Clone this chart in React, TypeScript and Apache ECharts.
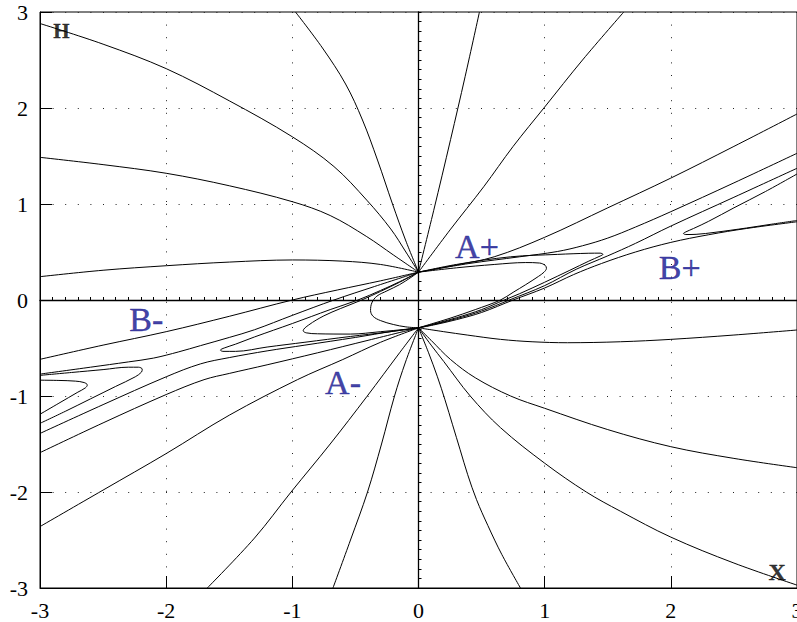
import React, { useEffect, useRef } from "react";
import * as echarts from "echarts";

type Pt = [number, number];

// axis range and tick step
const axisMin = -3;
const axisMax = 3;
const tickStep = 1;
const zeroTickStep = 0.1;

// ---- curves through the upper node (0, 0.29) ----
const upperLeft1: Pt[] = [[-3, 2.88], [-2.5, 2.665], [-2, 2.41], [-1.5, 2.075], [-1, 1.7], [-0.67, 1.39], [-0.41, 1.04], [-0.22, 0.74], [-0.1, 0.5], [0, 0.29]];
const upperLeft2: Pt[] = [[-3, 1.486], [-2.5, 1.41], [-2, 1.32], [-1.5, 1.19], [-1, 1.024], [-0.7, 0.88], [-0.41, 0.66], [-0.2, 0.47], [0, 0.29]];
const upperLeft3: Pt[] = [[-3, 0.243], [-2.5, 0.31], [-2, 0.357], [-1.5, 0.395], [-1, 0.417], [-0.6, 0.405], [-0.3, 0.37], [0, 0.29]];
const upperLeft4: Pt[] = [[-0.975, 3.0], [-0.761, 2.625], [-0.578, 2.25], [-0.444, 1.875], [-0.325, 1.458], [-0.206, 1.0], [-0.103, 0.625], [0, 0.29]];
const upperRight5: Pt[] = [[0, 0.29], [0.12, 0.93], [0.254, 1.67], [0.37, 2.33], [0.483, 3.0]];
const upperRight6: Pt[] = [[0, 0.29], [0.25, 0.73], [0.517, 1.18], [0.75, 1.6], [1.0, 2.01], [1.3, 2.5], [1.627, 3.0]];
const upperRight7: Pt[] = [[0, 0.29], [0.3, 0.365], [0.6, 0.45], [1.0, 0.653], [1.5, 0.96], [2.0, 1.27], [2.5, 1.6], [3, 1.9375]];
const rightBandB: Pt[] = [[0, 0.29], [0.4, 0.38], [0.8, 0.45], [1.1, 0.505], [1.3, 0.565], [1.5, 0.645], [1.72, 0.76], [2.0, 0.92], [2.5, 1.22], [3, 1.528]];
const rightLoopE: Pt[] = [[0, 0.29], [0.3, 0.37], [0.73, 0.45], [1.1, 0.475], [1.35, 0.487], [1.44, 0.488], [1.462, 0.476], [1.44, 0.458], [1.35, 0.405], [1.2, 0.31], [1.0, 0.185], [0.8, 0.065], [0.68, 0.0], [0.5, -0.1], [0.3, -0.185], [0.12, -0.25], [0, -0.29]];
const rightLoopD: Pt[] = [[0, 0.29], [0.3, 0.335], [0.6, 0.37], [0.85, 0.39], [0.96, 0.385], [1.005, 0.36], [1.014, 0.33], [0.995, 0.29], [0.95, 0.245], [0.85, 0.16], [0.75, 0.08], [0.65, 0.0], [0.45, -0.1], [0.25, -0.19], [0.1, -0.25], [0, -0.29]];
const leftBand1: Pt[] = [[-3, -0.618], [-2.5, -0.47], [-2, -0.33], [-1.5, -0.17], [-1, 0.0], [-0.644, 0.104], [-0.3, 0.2], [0, 0.29]];
const leftBand2: Pt[] = [[-3, -0.772], [-2.6, -0.7], [-2.3, -0.645], [-2.1, -0.605], [-1.9, -0.54], [-1.727, -0.475], [-1.5, -0.39], [-1.3, -0.31], [-1, -0.16], [-0.67, 0.0], [-0.35, 0.14], [0, 0.29]];
const leftLoopE: Pt[] = [[0, 0.29], [-0.15, 0.19], [-0.3, 0.1], [-0.48, 0.0], [-0.7, -0.1], [-1.0, -0.245], [-1.3, -0.385], [-1.45, -0.46], [-1.54, -0.5], [-1.57, -0.522], [-1.55, -0.535], [-1.45, -0.535], [-1.2, -0.49], [-0.9, -0.44], [-0.54, -0.38], [-0.25, -0.335], [0, -0.29]];
const leftLoopD: Pt[] = [[0, 0.29], [-0.15, 0.185], [-0.3, 0.09], [-0.45, 0.0], [-0.62, -0.09], [-0.75, -0.165], [-0.87, -0.26], [-0.914, -0.32], [-0.89, -0.342], [-0.8, -0.352], [-0.54, -0.355], [-0.3, -0.33], [-0.1, -0.305], [0, -0.29]];
const centreLoopC: Pt[] = [[0, 0.29], [-0.06, 0.235], [-0.15, 0.16], [-0.25, 0.095], [-0.33, 0.04], [-0.37, -0.03], [-0.38, -0.11], [-0.36, -0.17], [-0.3, -0.215], [-0.2, -0.255], [-0.1, -0.28], [0, -0.29]];

// ---- curves through the lower node (0, -0.29) ----
const lowerRight1: Pt[] = [[0, -0.29], [0.1, -0.47], [0.2, -0.64], [0.41, -1.0], [0.65, -1.33], [1.0, -1.7], [1.33, -2.0], [1.6, -2.2], [2.0, -2.47], [2.5, -2.74], [3, -2.97]];
const lowerRight2: Pt[] = [[0, -0.29], [0.1, -0.42], [0.254, -0.62], [0.45, -0.81], [0.73, -1.0], [1.0, -1.128], [1.5, -1.35], [2.0, -1.528], [2.5, -1.65], [3, -1.747]];
const lowerRight3: Pt[] = [[0, -0.29], [0.08, -0.55], [0.15, -0.8], [0.21, -1.04], [0.27, -1.3], [0.33, -1.56], [0.39, -1.82], [0.46, -2.08], [0.55, -2.35], [0.66, -2.65], [0.808, -3.0]];
const lowerRight4: Pt[] = [[0, -0.29], [0.2, -0.33], [0.386, -0.365], [0.65, -0.41], [0.9, -0.435], [1.18, -0.445], [1.6, -0.435], [2.0, -0.41], [2.5, -0.365], [3, -0.3125]];
const lowerLeft5: Pt[] = [[0, -0.29], [-0.103, -0.646], [-0.19, -1.0], [-0.293, -1.5], [-0.404, -2.0], [-0.539, -2.5], [-0.678, -3.0]];
const lowerLeft6: Pt[] = [[0, -0.29], [-0.15, -0.55], [-0.41, -1.007], [-0.7, -1.5], [-1.01, -2.0], [-1.3, -2.48], [-1.674, -3.0]];
const lowerLeft7: Pt[] = [[0, -0.29], [-0.3, -0.44], [-0.6, -0.62], [-0.96, -0.83], [-1.5, -1.2], [-2.0, -1.6], [-2.5, -1.98], [-3, -2.36]];
const leftBand3: Pt[] = [[-3, -1.39], [-2.5, -1.09], [-2, -0.8], [-1.727, -0.665], [-1.5, -0.6], [-1.2, -0.53], [-0.9, -0.47], [-0.5, -0.39], [-0.2, -0.325], [0, -0.29]];
const leftBand4: Pt[] = [[-3, -1.59], [-2.5, -1.28], [-2, -0.985], [-1.7, -0.83], [-1.5, -0.765], [-1.2, -0.675], [-0.8, -0.55], [-0.4, -0.42], [0, -0.29]];
const rightBandC: Pt[] = [[0, -0.29], [0.12, -0.255], [0.3, -0.195], [0.5, -0.115], [0.72, 0.0], [1.0, 0.15], [1.25, 0.32], [1.5, 0.46], [1.72, 0.59], [2.0, 0.77], [2.5, 1.07], [3, 1.372]];
const rightBandD: Pt[] = [[0, -0.29], [0.12, -0.26], [0.3, -0.205], [0.5, -0.13], [0.75, 0.0], [1.0, 0.125], [1.23, 0.265], [1.45, 0.38], [1.72, 0.5], [2.0, 0.6], [2.3, 0.68], [2.6, 0.745], [3, 0.815]];

// ---- hairpins near the edges ----
const hairpinRightH: Pt[] = [[3, 1.3125], [2.75, 1.13], [2.5, 0.96], [2.3, 0.82], [2.18, 0.745], [2.12, 0.71], [2.1, 0.693], [2.12, 0.682], [2.2, 0.684], [2.35, 0.705], [2.6, 0.75], [2.8, 0.79], [3, 0.828]];
const hairpinLeftF: Pt[] = [[-3, -0.785], [-2.75, -0.755], [-2.5, -0.725], [-2.3, -0.7], [-2.22, -0.7], [-2.19, -0.72], [-2.195, -0.75], [-2.245, -0.8], [-2.4, -0.9], [-2.6, -1.03], [-2.8, -1.16], [-3, -1.285]];
const hairpinLeftG: Pt[] = [[-3, -0.835], [-2.85, -0.838], [-2.72, -0.845], [-2.65, -0.86], [-2.625, -0.885], [-2.64, -0.915], [-2.7, -0.96], [-2.85, -1.075], [-3, -1.19]];

const curves: Pt[][] = [
  upperLeft1, upperLeft2, upperLeft3, upperLeft4, upperRight5, upperRight6, upperRight7,
  rightBandB, rightLoopE, rightLoopD, leftBand1, leftBand2, leftLoopE, leftLoopD, centreLoopC,
  lowerRight1, lowerRight2, lowerRight3, lowerRight4, lowerLeft5, lowerLeft6, lowerLeft7,
  leftBand3, leftBand4, rightBandC, rightBandD, hairpinRightH, hairpinLeftF, hairpinLeftG,
];

// ---- text annotations (data coordinates) ----
const regionNames = ["A+", "B+", "B-", "A-"];
const regionPos: Pt[] = [[0.4635, 0.5625], [2.07, 0.339], [-2.157, -0.208], [-0.598, -0.863]];
const axisNames = ["H", "X"];
const axisNamePos: Pt[] = [[-2.83, 2.8], [2.842, -2.83]];

const serif = "Liberation Serif";
const regionColor = "#10108e";

function buildOption() {
  const lineSeries = curves.map((c) => ({
    type: "line",
    data: c,
    xAxisIndex: 0,
    yAxisIndex: 0,
    symbol: "none",
    smooth: 0.35,
    clip: true,
    silent: true,
    lineStyle: { color: "#000", width: 1 },
    z: 3,
  }));

  const labelData = [
    ...regionNames.map((n, i) => ({
      name: n,
      value: regionPos[i],
      label: {
        color: regionColor, fontSize: 34, fontFamily: serif, fontWeight: "normal",
        textBorderColor: regionColor, textBorderWidth: 0.4,
      },
    })),
    ...axisNames.map((n, i) => ({
      name: n,
      value: axisNamePos[i],
      label: {
        color: "#000", fontSize: n === "H" ? 21 : 24, fontFamily: serif, fontWeight: "bold",
        textBorderColor: "#000", textBorderWidth: 0.3,
      },
    })),
  ];

  return {
    animation: false,
    backgroundColor: "#fff",
    grid: {
      left: 40, right: 0, top: 12, bottom: 34, show: true, borderColor: "#000", borderWidth: 1,
      containLabel: false, outerBoundsMode: "none",
    },
    xAxis: [
      {
        type: "value", min: axisMin, max: axisMax, interval: tickStep, position: "bottom",
        axisLine: { show: true, onZero: false, lineStyle: { color: "#000", width: 1 } },
        axisTick: { show: true, inside: true, length: 12, lineStyle: { color: "#000", width: 1 } },
        axisLabel: { color: "#000", fontFamily: serif, fontSize: 22, margin: 11 },
        splitLine: { show: true, lineStyle: { color: "#222", width: 1, type: [1, 11.6] } },
      },
      {
        type: "value", min: axisMin, max: axisMax, interval: zeroTickStep, position: "top",
        axisLine: { show: true, onZero: true, onZeroAxisIndex: 0, lineStyle: { color: "#000", width: 1.3 } },
        axisTick: { show: true, length: 3, lineStyle: { color: "#000", width: 1 } },
        axisLabel: { show: false },
        splitLine: { show: false },
      },
    ],
    yAxis: [
      {
        type: "value", min: axisMin, max: axisMax, interval: tickStep, position: "left",
        axisLine: { show: true, onZero: false, lineStyle: { color: "#000", width: 1 } },
        axisTick: { show: true, inside: true, length: 12, lineStyle: { color: "#000", width: 1 } },
        axisLabel: { color: "#000", fontFamily: serif, fontSize: 22, margin: 12 },
        splitLine: { show: true, lineStyle: { color: "#222", width: 1, type: [1, 11.6] } },
      },
      {
        type: "value", min: axisMin, max: axisMax, interval: zeroTickStep, position: "right",
        axisLine: { show: true, onZero: true, onZeroAxisIndex: 0, lineStyle: { color: "#000", width: 1.3 } },
        axisTick: { show: true, length: 3, lineStyle: { color: "#000", width: 1 } },
        axisLabel: { show: false },
        splitLine: { show: false },
      },
    ],
    series: [
      ...lineSeries,
      {
        type: "scatter",
        xAxisIndex: 0,
        yAxisIndex: 0,
        symbolSize: 1,
        silent: true,
        itemStyle: { color: "rgba(0,0,0,0)" },
        label: { show: true, position: "inside", formatter: "{b}" },
        data: labelData,
        z: 5,
      },
    ],
  };
}

export default function App() {
  const ref = useRef<HTMLDivElement>(null);
  useEffect(() => {
    if (!ref.current) return;
    const chart = echarts.init(ref.current, null, { renderer: "svg" });
    chart.setOption(buildOption() as any);
    return () => chart.dispose();
  }, []);
  return (
    <div
      ref={ref}
      style={{ position: "absolute", left: 0, top: 0, width: 797, height: 622, background: "#fff" }}
    />
  );
}
